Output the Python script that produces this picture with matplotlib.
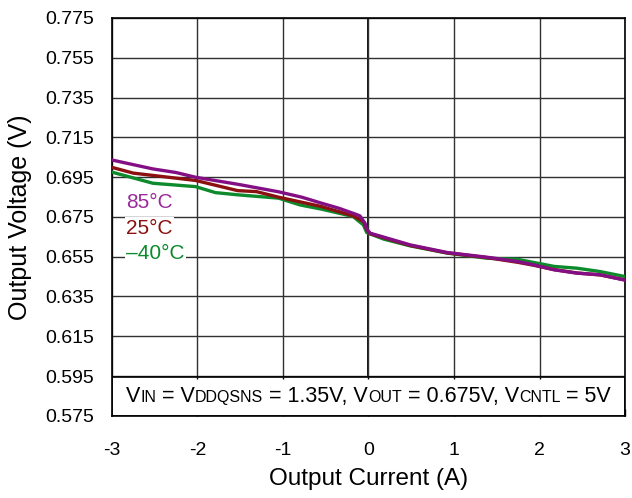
import matplotlib
matplotlib.use("Agg")
import matplotlib.pyplot as plt
from matplotlib.patches import Rectangle
from matplotlib.offsetbox import TextArea, HPacker, AnchoredOffsetbox

plt.rcParams['font.family'] = ['Liberation Sans', 'DejaVu Sans']

# ---- data ----
x_85 = [-3.0, -2.52, -2.25, -2.02, -1.53, -1.05, -0.78, -0.55, -0.35, -0.16, -0.10, -0.04, -0.02,
        0.02, 0.18, 0.49, 0.92, 1.39, 1.74, 1.93, 2.17, 2.44, 2.71, 3.0]
v_85 = [0.7036, 0.6991, 0.6973, 0.6949, 0.6914, 0.6876, 0.6849, 0.6819, 0.6794, 0.6765, 0.6755,
        0.6718, 0.6688, 0.6668, 0.6648, 0.6609, 0.6571, 0.6547, 0.6526, 0.6509, 0.6484, 0.6467,
        0.6459, 0.6432]

x_25 = [-3.0, -2.75, -2.02, -1.53, -1.31, -1.05, -0.55, -0.18, -0.06, -0.02,
        0.02, 0.18, 0.49, 0.92, 1.39, 1.74, 1.93, 2.17, 2.44, 2.71, 3.0]
v_25 = [0.6999, 0.6970, 0.6933, 0.6882, 0.6877, 0.6849, 0.6802, 0.6755, 0.6727, 0.6685,
        0.6665, 0.6645, 0.6606, 0.6569, 0.6545, 0.6522, 0.6507, 0.6485, 0.6468, 0.6458, 0.6433]

x_m40 = [-3.0, -2.52, -2.02, -1.79, -1.53, -1.05, -0.80, -0.55, -0.18, -0.06, -0.02,
         0.18, 0.49, 0.92, 1.39, 1.74, 2.17, 2.44, 2.71, 3.0]
v_m40 = [0.6975, 0.6919, 0.6902, 0.6872, 0.6861, 0.6844, 0.6810, 0.6789, 0.6752, 0.6710, 0.6671,
         0.6638, 0.6604, 0.6568, 0.6542, 0.6537, 0.6501, 0.6492, 0.6475, 0.6450]

x_ticks = [-3, -2, -1, 0, 1, 2, 3]
y_ticks = [0.575, 0.595, 0.615, 0.635, 0.655, 0.675, 0.695, 0.715, 0.735, 0.755, 0.775]

c_85 = '#840f84'
c_25 = '#8b1010'
c_m40 = '#0c8a2c'

fig = plt.figure(figsize=(6.32, 4.98), dpi=100)
ax = fig.add_axes([0.177, 0.165, 0.812, 0.799])

ax.set_xlim(-3, 3)
ax.set_ylim(0.575, 0.775)
ax.set_xticks(x_ticks)
ax.set_xticklabels([str(t) for t in x_ticks])
ax.set_yticks(y_ticks)
ax.set_yticklabels([f"{t:.3f}" for t in y_ticks])
ax.tick_params(axis='y', length=0, labelsize=14, pad=13)
ax.tick_params(axis='x', direction='in', length=5, width=1, labelsize=14, pad=19)
ax.grid(True, color='#303030', linewidth=1.0)
ax.axvline(0, color='black', linewidth=1.3, zorder=1)
for s in ax.spines.values():
    s.set_linewidth(1.2)
    s.set_color('black')

ax.plot(x_m40, v_m40, color=c_m40, lw=2.4, zorder=3)
ax.plot(x_25, v_25, color=c_25, lw=2.4, zorder=3)
ax.plot(x_85, v_85, color=c_85, lw=2.4, zorder=4)

# condition box
box_top = 0.5945
ax.add_patch(Rectangle((-3, 0.575), 6, box_top - 0.575, facecolor='white',
                       edgecolor='black', linewidth=1.2, zorder=2.5))
ax.vlines(x_ticks[1:-1], box_top - 0.0012, box_top, color='black', lw=1, zorder=2.6)

big, small = 15.5, 11.5
parts = [("V", big), ("IN", small), (" = V", big), ("DDQSNS", small), (" = 1.35V, V", big),
         ("OUT", small), (" = 0.675V, V", big), ("CNTL", small), (" = 5V", big)]
areas = [TextArea(t, textprops=dict(fontsize=s, color='black')) for t, s in parts]
pack = HPacker(children=areas, align="baseline", pad=0, sep=0)
ab = AnchoredOffsetbox(loc='center', child=pack, frameon=False,
                       bbox_to_anchor=(0.5, 0.048), bbox_transform=ax.transAxes, borderpad=0)
ab.set_zorder(5)
ax.add_artist(ab)

# temperature labels
bb = dict(facecolor='white', edgecolor='none', pad=1.0)
ax.text(-2.83, 0.6822, "85°C", color='#9a2a9a', fontsize=15, va='center', ha='left', zorder=5, bbox=bb)
ax.text(-2.83, 0.6692, "25°C", color=c_25, fontsize=15, va='center', ha='left', zorder=5, bbox=bb)
ax.text(-2.83, 0.6564, "\u201340°C", color=c_m40, fontsize=15, va='center', ha='left', zorder=5, bbox=bb)

ax.set_xlabel("Output Current (A)", fontsize=17.5, labelpad=6)
ax.set_ylabel("Output Voltage (V)", fontsize=18, labelpad=9)

fig.savefig("out.png", dpi=100)
